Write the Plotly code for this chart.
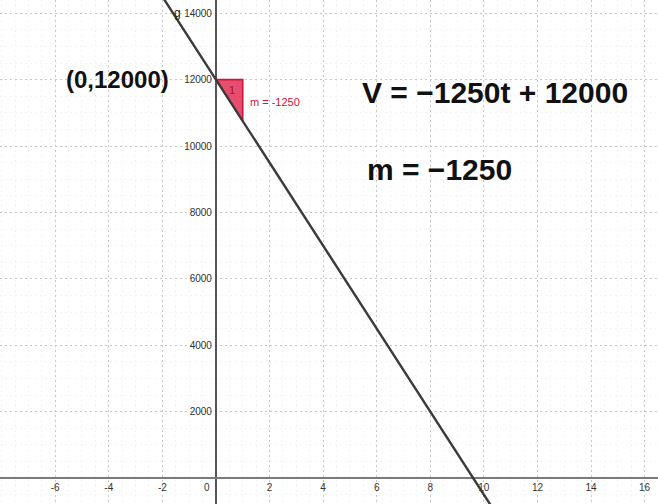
import plotly.graph_objects as go

# ---- data ----
line_t = [-2.5, 0, 1, 9.6, 10.8]
line_v = [15125, 12000, 10750, 0, -1500]
tri_t = [0, 1, 1, 0]
tri_v = [12000, 12000, 10750, 12000]
x_tickvals = [-6, -4, -2, 2, 4, 6, 8, 10, 12, 14, 16]
x_ticktext = ["-6", "-4", "-2", "2", "4", "6", "8", "10", "12", "14", "16"]
y_tickvals = [2000, 4000, 6000, 8000, 10000, 12000, 14000]
y_ticktext = ["2000", "4000", "6000", "8000", "10000", "12000", "14000"]
origin_label = "0"
x_range = [-8.06, 16.5]
y_range = [-783, 14398]

fig = go.Figure()

fig.add_trace(go.Scatter(x=tri_t, y=tri_v, mode="lines", fill="toself",
                         fillcolor="rgba(220,20,60,0.75)",
                         line=dict(color="#d0143c", width=1.6),
                         hoverinfo="skip", showlegend=False))
fig.add_trace(go.Scatter(x=line_t, y=line_v, mode="lines",
                         line=dict(color="#3a3a3a", width=2.4),
                         showlegend=False))

y0_frac = (0 - y_range[0]) / (y_range[1] - y_range[0])
x0_frac = (0 - x_range[0]) / (x_range[1] - x_range[0])

fig.update_layout(
    width=658, height=504,
    margin=dict(l=0, r=0, t=0, b=0, autoexpand=False),
    paper_bgcolor="white", plot_bgcolor="white",
    font=dict(family="Liberation Sans, Arial, sans-serif", color="#222"),
    xaxis=dict(range=x_range, tickvals=x_tickvals, ticktext=x_ticktext,
               anchor="free", position=y0_frac, automargin=False,
               showgrid=True, gridcolor="#c8c8c8", gridwidth=1, griddash="2px,3px",
               minor=dict(dtick=0.5, showgrid=True, gridcolor="#f4f4f4", griddash="2px,3px"),
               zeroline=True, zerolinecolor="#555555", zerolinewidth=1.5,
               showline=False, ticks="", ticklabelstandoff=2,
               tickfont=dict(size=10, color="#333")),
    yaxis=dict(range=y_range, tickvals=y_tickvals, ticktext=y_ticktext,
               anchor="free", position=x0_frac, automargin=False,
               showgrid=True, gridcolor="#c8c8c8", gridwidth=1, griddash="2px,3px",
               minor=dict(dtick=500, showgrid=True, gridcolor="#f4f4f4", griddash="2px,3px"),
               zeroline=True, zerolinecolor="#7a7a7a", zerolinewidth=1.8,
               showline=False, ticks="", ticklabelstandoff=4,
               tickfont=dict(size=10, color="#333")),
)

ann = [
    dict(x=-3.69, y=11990, text="(0,12000)", font=dict(size=24, color="#111",
         family="Liberation Sans, Arial"), xanchor="center", yanchor="middle"),
    dict(x=5.37, y=11600, text="V = \u22121250t + 12000",
         font=dict(size=30, color="#111", family="Liberation Sans, Arial"),
         xanchor="left", yanchor="middle"),
    dict(x=5.55, y=9280, text="m = \u22121250",
         font=dict(size=30, color="#111", family="Liberation Sans, Arial"),
         xanchor="left", yanchor="middle"),
    dict(x=0.6, y=11700, text="1", font=dict(size=11, color="#b0102e"),
         xanchor="center", yanchor="middle"),
    dict(x=1.18, y=11340, text="m = -1250", font=dict(size=11, color="#d0143c"),
         xanchor="left", yanchor="middle"),
    dict(x=-1.42, y=14010, text="g", font=dict(size=12, color="#222"),
         xanchor="center", yanchor="middle"),
    dict(x=-0.33, y=-300, text=origin_label, font=dict(size=10, color="#333"),
         xanchor="center", yanchor="middle"),
]
for a in ann:
    bold = a["font"].get("size", 10) >= 20
    if bold:
        a["text"] = "<b>" + a["text"] + "</b>"
    fig.add_annotation(showarrow=False, **a)

fig.write_html("out.html", config={"displayModeBar": False},
               post_script="document.body.style.margin='0';document.body.style.overflow='hidden';")
